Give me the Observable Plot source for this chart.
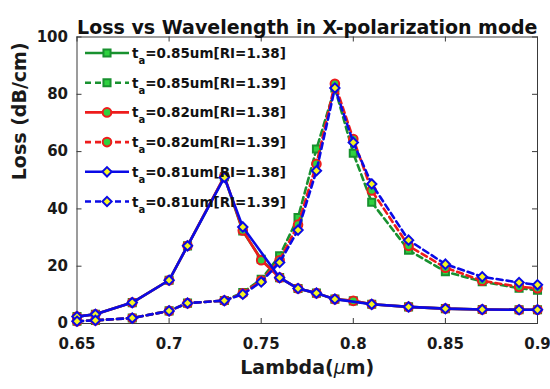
<!DOCTYPE html>
<html><head><meta charset="utf-8">
<script src="https://cdn.jsdelivr.net/npm/d3@7"></script>
<script src="https://cdn.jsdelivr.net/npm/@observablehq/plot@0.6"></script>
<style>
body{margin:0;background:#fff}
#chart svg{font-family:"DejaVu Sans",sans-serif;font-weight:bold;}
</style>
</head><body><div id="chart"></div>
<script>
const titleText = "Loss vs Wavelength in X-polarization mode";
const xLabel = "Lambda(μm)";
const yLabel = "Loss (dB/cm)";
const xTicks = [0.65, 0.7, 0.75, 0.8, 0.85, 0.9];
const yTicks = [0, 20, 40, 60, 80, 100];

const lambdaAll = [0.65,0.66,0.68,0.70,0.71,0.73,0.74,0.75,0.76,0.77,0.78,0.79,0.80,0.81,0.83,0.85,0.87,0.89,0.90];
const lambdaBlue138 = [0.65,0.66,0.68,0.70,0.71,0.73,0.74,0.76,0.77,0.78,0.79,0.81,0.83,0.85,0.87,0.89,0.90];

const lossG138 = [2.4,3.2,7.3,15.1,27.1,51.2,32.3,22.4,16.0,12.2,10.6,8.5,7.9,6.7,5.8,5.2,4.9,4.8,4.8];
const lossG139 = [0.8,1.1,1.9,4.4,7.1,8.0,10.8,15.4,23.6,37.0,60.9,82.2,59.4,42.3,25.6,18.1,14.6,12.3,11.6];
const lossR138 = [2.4,3.2,7.3,15.1,27.1,51.4,32.5,22.1,16.0,12.2,10.6,8.5,7.9,6.7,5.8,5.2,4.9,4.8,4.8];
const lossR139 = [0.8,1.1,1.9,4.4,7.1,8.0,10.5,15.0,22.1,34.5,55.7,83.7,64.4,46.4,27.1,19.5,14.9,12.8,12.3];
const lossB138 = [2.4,3.2,7.3,15.1,27.1,51.0,33.7,16.0,12.2,10.6,8.5,6.7,5.8,5.2,4.9,4.8,4.8];
const lossB139 = [0.8,1.1,1.9,4.4,7.1,8.0,10.2,14.5,21.3,32.6,53.3,82.2,63.2,48.7,29.1,20.7,16.3,14.3,13.5];

const legendTa = ["0.85","0.85","0.82","0.82","0.81","0.81"];
const legendRI = ["1.38","1.39","1.38","1.39","1.38","1.39"];

const series = [
  {lambda: lambdaAll, loss: lossG138, ta: legendTa[0], ri: legendRI[0], color: "#18912f", face: "#2fd13f", symbol: "square", r: 4.0, dash: null},
  {lambda: lambdaAll, loss: lossG139, ta: legendTa[1], ri: legendRI[1], color: "#18912f", face: "#2fd13f", symbol: "square", r: 4.0, dash: "6,4"},
  {lambda: lambdaAll, loss: lossR138, ta: legendTa[2], ri: legendRI[2], color: "#ee1c1c", face: "#2fd13f", symbol: "circle", r: 4.3, dash: null},
  {lambda: lambdaAll, loss: lossR139, ta: legendTa[3], ri: legendRI[3], color: "#ee1c1c", face: "#2fd13f", symbol: "circle", r: 4.3, dash: "6,4"},
  {lambda: lambdaBlue138, loss: lossB138, ta: legendTa[4], ri: legendRI[4], color: "#0a0ae6", face: "#f5f520", symbol: "diamond2", r: 4.2, dash: null},
  {lambda: lambdaAll, loss: lossB139, ta: legendTa[5], ri: legendRI[5], color: "#0a0ae6", face: "#f5f520", symbol: "diamond2", r: 4.2, dash: "6,4"}
];

const W = 550, H = 389;
const mL = 76.5, mR = 13, mT = 36.5, mB = 66;
const tickPx = 5;
const yLen = 100 * tickPx / (H - mT - mB);
const xLen = 0.25 * tickPx / (W - mL - mR);

const marks = [
  Plot.frame({stroke: "#3a3a3a", strokeWidth: 1}),
  Plot.ruleX(xTicks, {x: d => d, y1: 0, y2: yLen, stroke: "#3a3a3a"}),
  Plot.ruleX(xTicks, {x: d => d, y1: 100 - yLen, y2: 100, stroke: "#3a3a3a"}),
  Plot.ruleY(yTicks, {y: d => d, x1: 0.65, x2: 0.65 + xLen, stroke: "#3a3a3a"}),
  Plot.ruleY(yTicks, {y: d => d, x1: 0.9 - xLen, x2: 0.9, stroke: "#3a3a3a"}),
  Plot.axisX({ticks: xTicks, tickSize: 0, tickPadding: 15, tickFormat: d => String(+d.toFixed(2)), fontSize: 15, fontWeight: "bold", fill: "#1a1a1a", label: null}),
  Plot.axisY({ticks: yTicks, tickSize: 0, tickPadding: 9, fontSize: 15, fontWeight: "bold", fill: "#1a1a1a", label: null}),
  Plot.text([titleText], {text: d => d, frameAnchor: "top", dy: -17, fontSize: 19, fontWeight: "bold", fill: "#111"}),
  Plot.text([xLabel], {text: d => d, frameAnchor: "bottom", dy: 50, fontSize: 19, fontWeight: "bold", fill: "#1a1a1a"}),
  Plot.text([yLabel], {text: d => d, frameAnchor: "left", dx: -57, rotate: -90, fontSize: 19, fontWeight: "bold", fill: "#1a1a1a"})
];

for (const s of series) {
  const rows = s.lambda.map((x, i) => ({x, y: s.loss[i]}));
  marks.push(Plot.line(rows, {x: "x", y: "y", stroke: s.color, strokeWidth: 2.6, strokeDasharray: s.dash, curve: "linear"}));
  marks.push(Plot.dot(rows, {x: "x", y: "y", symbol: s.symbol, r: s.r, fill: s.face, stroke: s.color, strokeWidth: 2}));
}

const chart = Plot.plot({
  width: W, height: H,
  marginLeft: mL, marginRight: mR, marginTop: mT, marginBottom: mB,
  x: {domain: [0.65, 0.9]},
  y: {domain: [0, 100]},
  style: {fontFamily: "DejaVu Sans", background: "#fff"},
  marks
});
document.getElementById("chart").appendChild(chart);

const svg = d3.select(chart);
svg.selectAll("text").filter(function() { return this.textContent === xLabel; }).each(function() {
  const t = d3.select(this);
  t.text(null);
  t.append("tspan").text("Lambda(");
  t.append("tspan").attr("font-style", "italic").attr("font-weight", "normal").text("μ");
  t.append("tspan").text("m)");
});

// legend (no box)
const lg = svg.append("g").attr("class", "legend").attr("text-anchor", "start");
const lx0 = 85, lx1 = 129, ly0 = 53, ldy = 29.7;
series.forEach((s, i) => {
  const y = ly0 + i * ldy;
  lg.append("line").attr("x1", lx0).attr("x2", lx1).attr("y1", y).attr("y2", y)
    .attr("stroke", s.color).attr("stroke-width", 2.6).attr("stroke-dasharray", s.dash);
  const symType = s.symbol === "square" ? d3.symbolSquare : s.symbol === "circle" ? d3.symbolCircle : d3.symbolDiamond2;
  lg.append("path").attr("d", d3.symbol(symType, Math.PI * s.r * s.r)())
    .attr("transform", `translate(${(lx0 + lx1) / 2},${y})`)
    .attr("fill", s.face).attr("stroke", s.color).attr("stroke-width", 2);
  const t = lg.append("text").attr("x", lx1 + 3).attr("y", y + 5).attr("text-anchor", "start")
    .attr("font-size", 13.5).attr("font-weight", "bold").attr("fill", "#111");
  t.append("tspan").text("t");
  t.append("tspan").attr("dy", 6).attr("font-size", 10).text("a");
  t.append("tspan").attr("dy", -6).text(`=${s.ta}um[RI=${s.ri}]`);
});
</script>
</body></html>
